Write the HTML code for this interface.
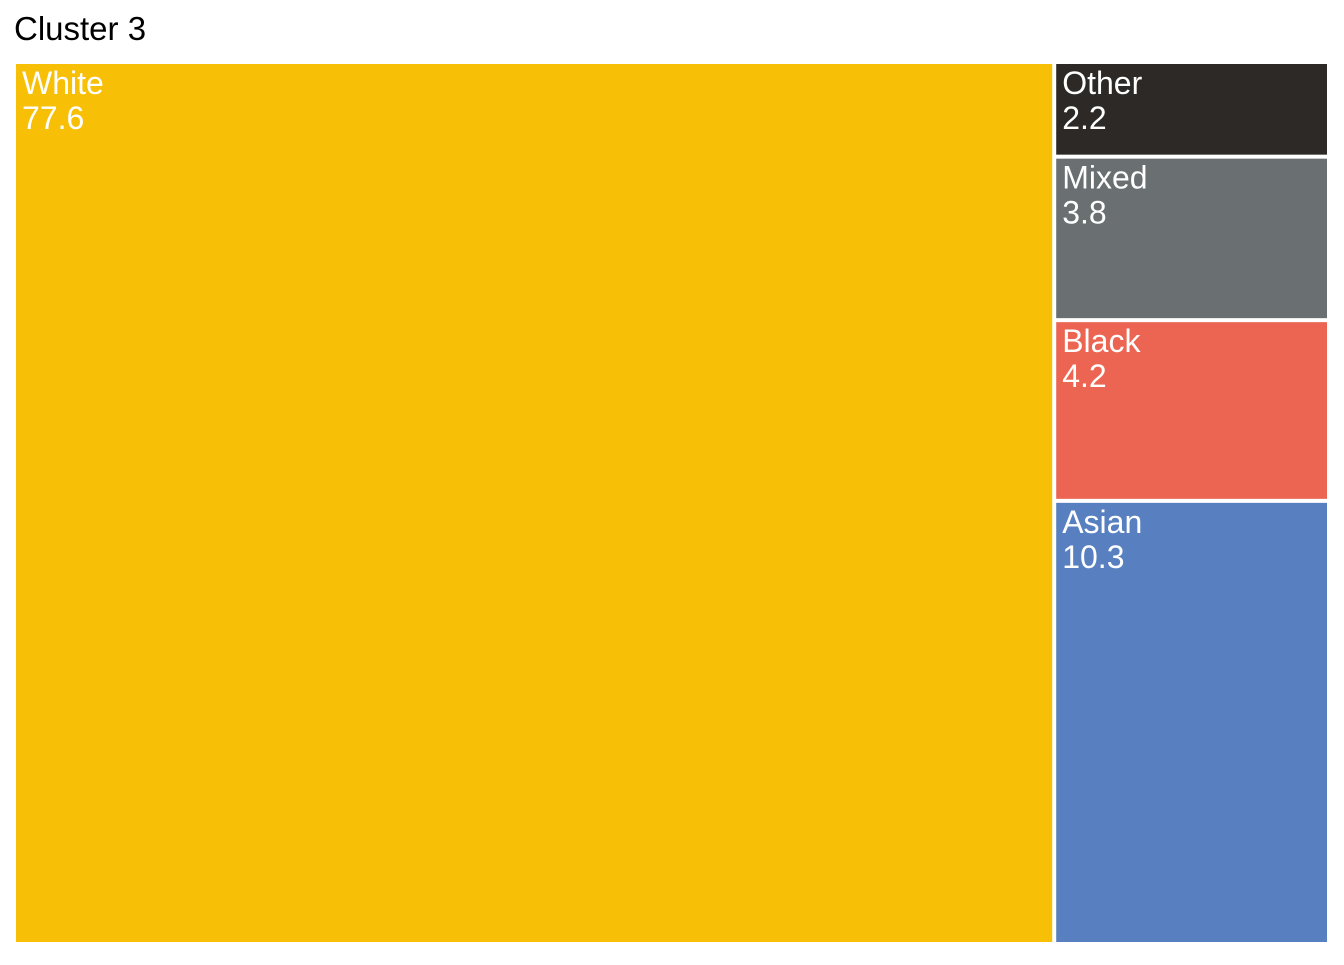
<!DOCTYPE html>
<html><head><meta charset="utf-8"><style>
body{margin:0;background:#fff;width:1344px;height:960px;overflow:hidden;font-family:"Liberation Sans",sans-serif}
</style></head><body>
<svg id="chart" width="1344" height="960">
<text x="14" y="40" font-size="33" fill="#000">Cluster 3</text>
<g id="cells"></g>
</svg>
<script>
const categories = ["White","Other","Mixed","Black","Asian"];
const values = [77.6, 2.2, 3.8, 4.2, 10.3];
const colors = ["#f8bf07","#2d2926","#6a7072","#ec6553","#5880c0"];
const X0=16, Y0=64, W=1311, H=878, GAP=2;
const total = values.reduce((a,b)=>a+b,0);
const g = document.getElementById('cells');
const ns='http://www.w3.org/2000/svg';
function cell(i,x,y,w,h){
  const r=document.createElementNS(ns,'rect');
  r.setAttribute('x',x+GAP);r.setAttribute('y',y+GAP);
  r.setAttribute('width',Math.max(0,w-2*GAP));r.setAttribute('height',Math.max(0,h-2*GAP));
  r.setAttribute('fill',colors[i]);
  
  
  g.appendChild(r);
  const t=document.createElementNS(ns,'text');
  t.setAttribute('x',x+GAP+6);t.setAttribute('y',y+GAP+30);
  t.setAttribute('font-size','32');t.setAttribute('fill','#fff');
  
  
  const s1=document.createElementNS(ns,'tspan');s1.textContent=categories[i];
  s1.setAttribute('x',x+GAP+6);
  const s2=document.createElementNS(ns,'tspan');s2.textContent=values[i].toFixed(1);
  s2.setAttribute('x',x+GAP+6);s2.setAttribute('dy','35');
  t.appendChild(s1);t.appendChild(s2);g.appendChild(t);
}
const x0 = X0-GAP, y0 = Y0-GAP, w0 = W+2*GAP, h0 = H+2*GAP;
const w1 = w0*values[0]/total;
cell(0,x0,y0,w1,h0);
const rest = total-values[0];
let y=y0;
for(let i=1;i<values.length;i++){
  const h=h0*values[i]/rest;
  cell(i,x0+w1,y,w0-w1,h);
  y+=h;
}
</script>
</body></html>
